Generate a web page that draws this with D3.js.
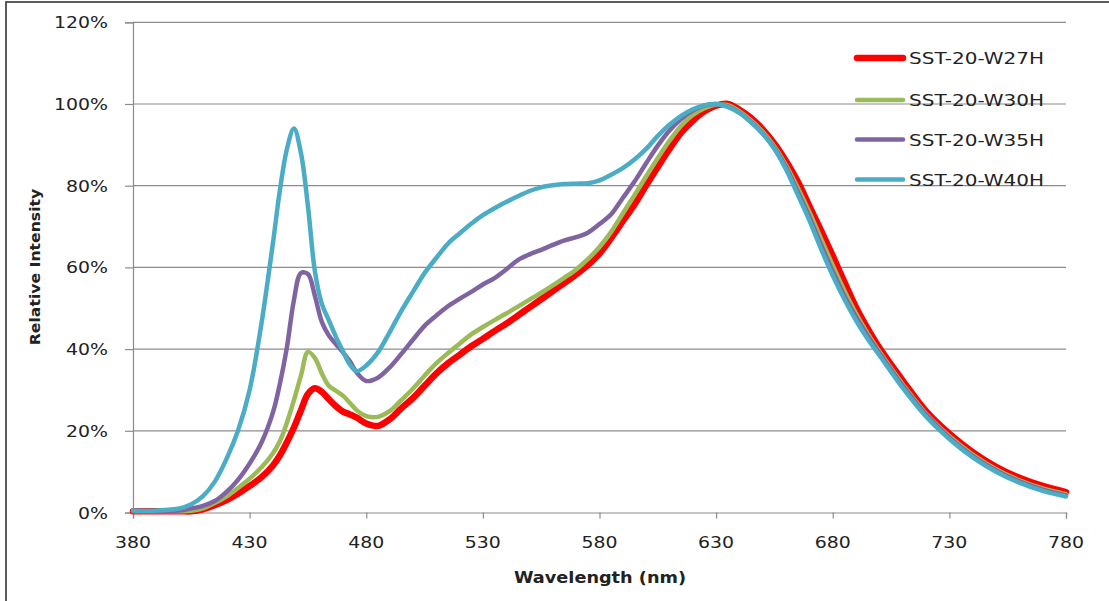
<!DOCTYPE html>
<html>
<head>
<meta charset="utf-8">
<script src="https://cdn.jsdelivr.net/npm/d3@7"></script>
<style>
  html, body { margin: 0; padding: 0; background: #fff; }
  svg { display: block; }
  text { font-family: "DejaVu Sans", Verdana, sans-serif; fill: #222; }
</style>
</head>
<body>
<svg id="chart" width="1109" height="601"></svg>
<script>
// wavelengths (nm) shared by all series
const wavelengths = [
  380, 390, 400, 405, 410, 415, 420, 425, 430, 435, 440, 443, 446, 449, 452, 455,
  458, 461, 464, 467, 470, 473, 476, 480,
  485, 490, 495, 500, 505, 510, 515, 520, 525, 530, 535, 540, 545, 550, 555, 560,
  565, 570, 575, 580, 585, 590, 595, 600, 605, 610, 615, 620, 625, 630, 635, 640,
  645, 650, 655, 660, 665, 670, 675, 680, 685, 690, 695, 700,
  710, 720, 730, 740, 750, 760, 770, 780
];

// relative intensity in %
const w27h = [
  0.3, 0.3, 0.3, 0.3, 0.8, 1.8, 3.0, 4.6, 6.5, 8.6, 11.5, 14.0, 17.2, 20.8, 25, 29,
  30.4, 29.5, 27.7, 26, 24.7, 24, 23.2, 21.8,
  21.2, 22.8, 25.5, 28, 31, 34, 36.5, 38.6, 40.7, 42.5, 44.4, 46.2, 48.2, 50.2, 52.2, 54.2,
  56.2, 58.3, 60.6, 63.4, 67.2, 71.3, 75.4, 80.1, 84.6, 89, 93, 95.9, 98.2, 99.6, 100, 98.6,
  96.6, 93.8, 90.3, 86, 81, 75, 69, 62.8, 56.4, 50.2, 45, 40.3,
  32.3, 24.8, 19.3, 14.8, 11.2, 8.5, 6.5, 5.0
];
const w30h = [
  0.3, 0.3, 0.3, 0.4, 1.0, 2.3, 3.9, 6.0, 8.3, 11.0, 14.5, 17.5, 22, 27.5, 33.5, 39.3,
  37.8, 34, 31, 29.8, 28.6, 26.8, 25.0, 23.6,
  23.4, 24.8, 27.5, 30.3, 33.5, 36.5, 39, 41.3, 43.6, 45.4, 47.1, 48.7, 50.4, 52.1, 53.8, 55.6,
  57.5, 59.5, 62, 65, 68.7, 73.2, 77.7, 82.3, 86.8, 91, 94.7, 97.3, 99, 99.9, 99.7, 98.2,
  96, 93.2, 89.6, 85, 79.5, 73.5, 67, 60.5, 54.3, 48.7, 43.8, 39.4,
  31.4, 24.2, 18.7, 14.2, 10.6, 7.9, 5.9, 4.5
];
const w35h = [
  0.3, 0.3, 0.5, 1.0, 1.6, 2.8, 5.0, 8.0, 12.0, 17.0, 24.5, 31.6, 40.5, 52, 58.6, 58.4,
  53, 46.6, 43.3, 41.2, 39.2, 37, 34.2, 32.2,
  33, 35.5, 38.8, 42.3, 45.7, 48.2, 50.5, 52.3, 54, 55.8, 57.4, 59.5, 61.8, 63.2, 64.3, 65.5,
  66.6, 67.4, 68.5, 70.6, 73, 77, 81, 85.5, 89.8, 93.5, 96.3, 98.4, 99.6, 100, 99.4, 97.9,
  95.6, 92.8, 89.2, 84.5, 78.5, 72.3, 65.5, 59, 53, 47.8, 43.2, 39,
  31, 23.9, 18.3, 13.8, 10.3, 7.6, 5.6, 4.2
];
const w40h = [
  0.5, 0.5, 1.0, 2.0, 4.0, 7.5, 13.0, 20, 30, 46, 66, 79, 89, 94, 88, 75,
  59, 51, 47, 43, 39.5, 36.2, 34.6, 36,
  39.2, 44.1, 49.3, 54, 58.6, 62.3, 65.8, 68.3, 70.7, 72.8, 74.5, 76, 77.4, 78.7, 79.6, 80.1,
  80.4, 80.5, 80.6, 81.3, 82.7, 84.3, 86.4, 89, 92.2, 94.9, 97.1, 98.7, 99.7, 100, 99.3, 97.8,
  95.5, 92.7, 89, 84, 77.8, 71.5, 64.5, 58, 52.2, 47, 42.5, 38.5,
  30.5, 23.5, 18, 13.5, 10, 7.3, 5.3, 3.9
];

const seriesNames = ["SST-20-W27H", "SST-20-W30H", "SST-20-W35H", "SST-20-W40H"];
const seriesValues = [w27h, w30h, w35h, w40h];
const seriesColors = ["#ff0000", "#9bbb59", "#8064a2", "#4bacc6"];
const seriesWidths = [6.5, 4.5, 4.5, 4.5];

const xTicks = [380, 430, 480, 530, 580, 630, 680, 730, 780];
const yTicks = [0, 20, 40, 60, 80, 100, 120];

const plot = { left: 133, right: 1066, top: 22.3, bottom: 512.5 };
const stretch = 1.18; // text in the reference is drawn a bit wide

const svg = d3.select("#chart");

// outer frame
svg.append("rect")
  .attr("x", 6).attr("y", 2)
  .attr("width", 1200).attr("height", 700)
  .attr("fill", "none")
  .attr("stroke", "#333")
  .attr("stroke-width", 1.6);

const x = d3.scaleLinear().domain([380, 780]).range([plot.left, plot.right]);
const y = d3.scaleLinear().domain([0, 120]).range([plot.bottom, plot.top]);

// gridlines
svg.append("g")
  .selectAll("line")
  .data(yTicks.filter((d) => d > 0))
  .join("line")
  .attr("x1", plot.left)
  .attr("x2", plot.right)
  .attr("y1", (d) => y(d))
  .attr("y2", (d) => y(d))
  .attr("stroke", "#8c8c8c")
  .attr("stroke-width", 1.2);

// axes
const xAxis = d3.axisBottom(x).tickValues(xTicks).tickSize(6).tickFormat("");
const yAxis = d3.axisLeft(y).tickValues(yTicks).tickSize(8).tickFormat("");

const gx = svg.append("g")
  .attr("transform", `translate(0,${plot.bottom})`)
  .call(xAxis);
const gy = svg.append("g")
  .attr("transform", `translate(${plot.left},0)`)
  .call(yAxis);

[gx, gy].forEach((g) => {
  g.select(".domain").attr("stroke", "#8c8c8c").attr("stroke-width", 1.2);
  g.selectAll(".tick line").attr("stroke", "#8c8c8c").attr("stroke-width", 1.2);
});

// tick labels
svg.append("g")
  .selectAll("text")
  .data(xTicks)
  .join("text")
  .attr("transform", (d) => `translate(${x(d)},548) scale(${stretch},1)`)
  .attr("text-anchor", "middle")
  .style("font-size", "16px")
  .text((d) => d);

svg.append("g")
  .selectAll("text")
  .data(yTicks)
  .join("text")
  .attr("transform", (d) => `translate(108,${y(d) + 6}) scale(${stretch},1)`)
  .attr("text-anchor", "end")
  .style("font-size", "16px")
  .text((d) => d + "%");

// axis titles
svg.append("text")
  .attr("transform", `translate(600,583) scale(${stretch},1)`)
  .attr("text-anchor", "middle")
  .style("font-size", "15px")
  .style("font-weight", "bold")
  .text("Wavelength (nm)");

svg.append("text")
  .attr("transform", `translate(40,267) rotate(-90) scale(1.12,1)`)
  .attr("text-anchor", "middle")
  .style("font-size", "14px")
  .style("font-weight", "bold")
  .text("Relative Intensity");

// the lines
const line = d3.line()
  .x((d) => x(d[0]))
  .y((d) => y(d[1]))
  .curve(d3.curveCatmullRom.alpha(0.5));

svg.append("g")
  .selectAll("path")
  .data(seriesValues.map((vals) => vals.map((v, i) => [wavelengths[i], v])))
  .join("path")
  .attr("d", (d) => line(d))
  .attr("fill", "none")
  .attr("stroke", (d, i) => seriesColors[i])
  .attr("stroke-width", (d, i) => seriesWidths[i])
  .attr("stroke-linejoin", "round")
  .attr("stroke-linecap", "round");

// legend
const legendRows = [58, 100, 139.5, 179.5];
const legend = svg.append("g")
  .selectAll("g")
  .data(seriesNames)
  .join("g")
  .attr("transform", (d, i) => `translate(0,${legendRows[i]})`);

legend.append("line")
  .attr("x1", 857).attr("x2", 903)
  .attr("stroke", (d, i) => seriesColors[i])
  .attr("stroke-width", (d, i) => (i === 0 ? 6.5 : 4.5))
  .attr("stroke-linecap", "round");

legend.append("text")
  .attr("transform", "translate(909,6) scale(1.25,1)")
  .style("font-size", "16px")
  .text((d) => d);
</script>
</body>
</html>
